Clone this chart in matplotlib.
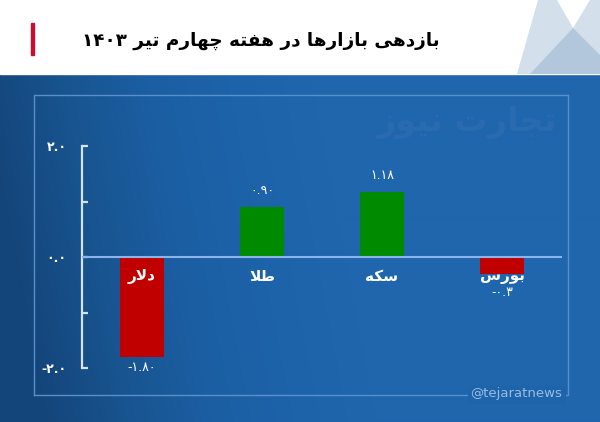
import numpy as np
import matplotlib as mpl
mpl.use("Agg")
import matplotlib.pyplot as plt
from matplotlib.colors import LinearSegmentedColormap
from matplotlib.patches import Polygon, Rectangle

# data
categories = ["دلار", "طلا", "سکه", "بورس"]
values = [-1.80, 0.90, 1.18, -0.3]
value_labels = ["-۱.۸۰", "۰.۹۰", "۱.۱۸", "-۰.۳"]
bar_colors = ["#c00000", "#008a00", "#008a00", "#c00000"]
yticks = [-2, -1, 0, 1, 2]
ytick_labels = ["-۲.۰", "", "۰.۰", "", "۲.۰"]
title = "بازدهی بازارها در هفته چهارم تیر ۱۴۰۳"
watermark = "تجارت نیوز"
handle = "@tejaratnews"

# tiny persian shaper: matplotlib has no arabic shaping, so use presentation forms
# (isolated, final, initial, medial)
FORMS = {
    "ا": ("\uFE8D", "\uFE8E", None, None),
    "ب": ("\uFE8F", "\uFE90", "\uFE91", "\uFE92"),
    "ت": ("\uFE95", "\uFE96", "\uFE97", "\uFE98"),
    "ج": ("\uFE9D", "\uFE9E", "\uFE9F", "\uFEA0"),
    "چ": ("\uFB7A", "\uFB7B", "\uFB7C", "\uFB7D"),
    "د": ("\uFEA9", "\uFEAA", None, None),
    "ر": ("\uFEAD", "\uFEAE", None, None),
    "ز": ("\uFEAF", "\uFEB0", None, None),
    "س": ("\uFEB1", "\uFEB2", "\uFEB3", "\uFEB4"),
    "ط": ("\uFEC1", "\uFEC2", "\uFEC3", "\uFEC4"),
    "ف": ("\uFED1", "\uFED2", "\uFED3", "\uFED4"),
    "ک": ("\uFB8E", "\uFB8F", "\uFB90", "\uFB91"),
    "ل": ("\uFEDD", "\uFEDE", "\uFEDF", "\uFEE0"),
    "م": ("\uFEE1", "\uFEE2", "\uFEE3", "\uFEE4"),
    "ن": ("\uFEE5", "\uFEE6", "\uFEE7", "\uFEE8"),
    "ه": ("\uFEE9", "\uFEEA", "\uFEEB", "\uFEEC"),
    "و": ("\uFEED", "\uFEEE", None, None),
    "ی": ("\uFBFC", "\uFBFD", "\uFBFE", "\uFBFF"),
}


def shape_word(w):
    out = []
    i = 0
    while i < len(w):
        c = w[i]
        prev = w[i - 1] if i > 0 else None
        prev_joins = prev in FORMS and FORMS[prev][2] is not None
        if c == "ل" and i + 1 < len(w) and w[i + 1] == "ا":
            out.append("\uFEFC" if prev_joins else "\uFEFB")
            i += 2
            continue
        if c not in FORMS:
            out.append(c)
            i += 1
            continue
        nxt = w[i + 1] if i + 1 < len(w) else None
        next_joins = nxt in FORMS and FORMS[c][2] is not None
        iso, fin, ini, med = FORMS[c]
        if prev_joins and next_joins:
            out.append(med)
        elif prev_joins:
            out.append(fin)
        elif next_joins:
            out.append(ini)
        else:
            out.append(iso)
        i += 1
    return "".join(out)


def fa(s):
    words = s.split(" ")
    res = []
    for w in reversed(words):
        if any(ch in FORMS for ch in w):
            res.append(shape_word(w)[::-1])
        else:
            res.append(w)
    return " ".join(res)


W, H = 600, 422
fig = plt.figure(figsize=(6, 4.22), dpi=100)

# background / decoration axes in pixel coordinates
bg = fig.add_axes([0, 0, 1, 1])
bg.set_xlim(0, W)
bg.set_ylim(H, 0)
bg.axis("off")

cmap = LinearSegmentedColormap.from_list(
    "bg", ["#14457a", "#18548f", "#1b5ea2", "#1d63a9", "#1f66ad"])
xx, yy = np.meshgrid(np.linspace(0, 1, 300), np.linspace(0, 1, 180))
grad = np.clip(xx * 1.8 + (0.35 - yy) * 0.2, 0, 1)
bg.imshow(grad, cmap=cmap, extent=[0, W, H, 74], aspect="auto", zorder=0)

# header
bg.add_patch(Rectangle((0, 0), W, 74, color="white", zorder=1))
bg.add_patch(Polygon([(517, 74), (538, 0), (557, 0), (573, 28), (590, 0),
                      (600, 0), (600, 74)], color="#d3dfeb", lw=0, zorder=2))
bg.add_patch(Polygon([(530, 74), (573, 28), (600, 55), (600, 74)],
                     color="#b2c7dc", lw=0, zorder=3))
bg.add_patch(Rectangle((31, 23), 2.5, 32, color="#c8102e", zorder=3))
bg.text(440, 41, fa(title), ha="right", va="center", fontsize=13.2,
        fontweight="bold", color="black", family="DejaVu Sans", zorder=4)

# frame
bg.plot([34, 568, 568], [395, 395, 95], color="#5b8fca", lw=1, zorder=1)
bg.plot([34, 34, 568], [395, 95, 95], color="#5b8fca", lw=1, zorder=1)
bg.add_patch(Rectangle((468, 386), 98, 18, color="#1e64aa", lw=0, zorder=1))
bg.text(562, 394, handle, ha="right", va="center", fontsize=9.5,
        color="#9bbbe2", family="DejaVu Sans", zorder=2)
bg.text(557, 122, fa(watermark), ha="right", va="center", fontsize=24,
        fontweight="bold", color="#2a6bb0", family="DejaVu Sans", zorder=2)

# chart
ax = fig.add_axes([82 / W, (H - 368) / H, 480 / W, 222 / H])
ax.patch.set_alpha(0)
x = np.arange(len(categories))
ax.bar(x, values, width=0.36, color=bar_colors, zorder=2)
ax.set_xlim(-0.5, 3.5)
ax.set_ylim(-2, 2)
ax.axhline(0, color="#8db4ea", lw=1.5, zorder=3)

for s in ["top", "right", "bottom"]:
    ax.spines[s].set_visible(False)
ax.spines["left"].set_color("#d6e3f5")
ax.spines["left"].set_linewidth(1.6)
ax.set_xticks([])
ax.set_yticks(yticks)
ax.set_yticklabels(ytick_labels)
ax.tick_params(axis="y", direction="in", length=4, width=1.6,
               color="#d6e3f5", labelcolor="white", labelsize=9, pad=11)
for t in ax.get_yticklabels():
    t.set_fontweight("bold")

for i, v in enumerate(values):
    ax.annotate(fa(categories[i]), (x[i], 0), xytext=(0, -8.5),
                textcoords="offset points", ha="center", va="top",
                fontsize=11, fontweight="bold", color="white", zorder=4)
    if v >= 0:
        ax.annotate(value_labels[i], (x[i], v), xytext=(0, 7),
                    textcoords="offset points", ha="center", va="bottom",
                    fontsize=9, color="white")
    else:
        ax.annotate(value_labels[i], (x[i], min(v, -0.45)), xytext=(0, -3),
                    textcoords="offset points", ha="center", va="top",
                    fontsize=9, color="white")

fig.savefig("out.png", dpi=100)
